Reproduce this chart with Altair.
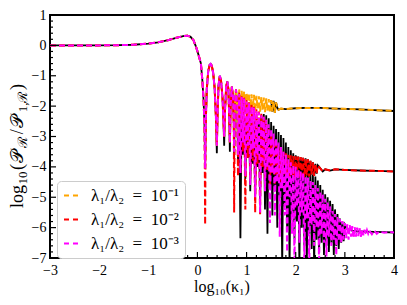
import altair as alt
import pandas as pd

# ---- shared smooth head (all three cases coincide) ----
HEAD_X = [-3.0, -2.5, -2.0, -1.6, -1.3, -1.0, -0.8, -0.6, -0.45, -0.35, -0.27, -0.2, -0.14, -0.08, -0.03, 0.02, 0.07, 0.10, 0.125, 0.145]
HEAD_Y = [0.0, 0.0, 0.0, 0.005, 0.02, 0.06, 0.10, 0.17, 0.24, 0.28, 0.31, 0.32, 0.28, 0.17, -0.04, -0.3, -0.59, -1.14, -1.8, -2.7]

# ---- first resolved oscillations (shared) ----
SEG_X = [0.168, 0.19, 0.22, 0.25, 0.27, 0.29, 0.32, 0.35, 0.375, 0.41, 0.43, 0.456, 0.48, 0.51, 0.53, 0.56, 0.585, 0.61, 0.63, 0.648, 0.675, 0.70, 0.725, 0.74, 0.76, 0.785, 0.81]
SEG_Y = [-2.6, -1.45, -0.85, -0.64, -0.61, -0.66, -0.9, -1.4, -2.3, -2.2, -1.3, -1.0, -1.15, -1.7, -2.5, -2.2, -1.35, -1.19, -1.45, -2.4, -2.0, -1.36, -1.7, -2.6, -2.1, -1.45, -2.0]

DIP_X = [0.157, 0.395, 0.544, 0.66, 0.747, 0.825]
DIP_ORANGE = [-4.0, -3.3, -3.0, -3.2, -3.0, -2.9]
DIP_RED = [-5.9, -3.3, -3.0, -3.2, -5.5, -4.3]
DIP_MAGENTA = [-4.05, -3.3, -3.0, -3.2, -3.5, -3.6]
DIP_BLACK = [-4.0, -3.55, -3.3, -3.5, -3.75, -3.8]

# ---- dense oscillation region: peak / trough positions ----
PEAK_X = [0.85, 0.90, 0.95, 1.00, 1.05, 1.10, 1.15, 1.20, 1.25, 1.30, 1.35, 1.40, 1.45, 1.50, 1.55, 1.60, 1.65, 1.70,
          1.75, 1.80, 1.85, 1.90, 1.95, 2.00, 2.05, 2.10, 2.15, 2.20, 2.25, 2.30, 2.35, 2.40, 2.45, 2.50, 2.55, 2.60,
          2.65, 2.70, 2.75, 2.80, 2.85, 2.90, 2.95, 3.00, 3.05, 3.10, 3.15, 3.20, 3.25, 3.30, 3.35, 3.40, 3.45, 3.50]
TROUGH_X = [0.875, 0.925, 0.975, 1.025, 1.075, 1.125, 1.175, 1.225, 1.275, 1.325, 1.375, 1.425, 1.475, 1.525, 1.575,
            1.625, 1.675, 1.725, 1.775, 1.825, 1.875, 1.925, 1.975, 2.025, 2.075, 2.125, 2.175, 2.225, 2.275, 2.325,
            2.375, 2.425, 2.475, 2.525, 2.575, 2.625, 2.675, 2.725, 2.775, 2.825, 2.875, 2.925, 2.975, 3.025, 3.075,
            3.125, 3.175, 3.225, 3.275, 3.325, 3.375, 3.425, 3.475]

ORANGE_PEAK_Y = [-1.45, -1.49, -1.52, -1.55, -1.58, -1.61, -1.63, -1.66, -1.68, -1.70, -1.72, -1.74, -1.77, -1.80, -1.83, -1.88]
ORANGE_TROUGH_Y = [-2.30, -2.05, -2.15, -2.00, -2.10, -2.05, -2.15, -2.08, -2.18, -2.12, -2.20, -2.15, -2.22, -2.18, -2.22]
ORANGE_TAIL_X = [1.625, 1.65, 1.70, 1.80, 1.90, 2.00, 2.20, 2.50, 2.80, 3.00, 3.30, 3.60, 4.00]
ORANGE_TAIL_Y = [-2.05, -2.12, -2.08, -2.10, -2.08, -2.07, -2.06, -2.06, -2.08, -2.09, -2.11, -2.13, -2.16]

RED_PEAK_Y = [-1.55, -1.65, -1.72, -1.80, -1.87, -1.95, -2.02, -2.10, -2.18, -2.25, -2.35, -2.45, -2.70, -2.90, -3.10,
              -3.25, -3.35, -3.45, -3.50, -3.55, -3.60, -3.62, -3.64, -3.65, -3.66, -3.68, -3.70, -3.72, -3.75, -3.80,
              -3.85, -3.90, -3.95]
RED_TROUGH_Y = [-4.2, -3.5, -5.4, -3.7, -4.4, -3.8, -5.5, -3.9, -5.6, -4.0, -4.6, -4.1, -4.7, -4.2, -4.6, -4.3, -4.5,
                -4.3, -4.45, -4.3, -4.4, -4.3, -4.4, -4.28, -4.38, -4.3, -4.35, -4.28, -4.32, -4.25, -4.3, -4.22]
RED_TAIL_X = [2.50, 2.55, 2.60, 2.70, 2.80, 3.00, 3.30, 3.60, 4.00]
RED_TAIL_Y = [-4.05, -4.15, -4.08, -4.12, -4.08, -4.10, -4.12, -4.13, -4.15]

MAGENTA_PEAK_Y = [-1.6, -1.7, -1.75, -1.85, -1.9, -2.0, -2.05, -2.15, -2.2, -2.3, -2.35, -2.45, -2.6, -2.75, -2.9,
                  -3.05, -3.2, -3.35, -3.5, -3.6, -3.75, -3.85, -3.95, -4.0, -4.1, -4.15, -4.2, -4.3, -4.35, -4.45,
                  -4.5, -4.6, -4.7, -4.8, -4.9, -5.05, -5.15, -5.3, -5.45, -5.55, -5.65, -5.72, -5.78, -5.85, -5.88,
                  -5.92, -5.95, -5.98, -6.0, -6.02, -6.05, -6.07, -6.08, -6.1]
MAGENTA_TROUGH_Y = [-4.2, -3.2, -4.3, -3.3, -4.6, -3.4, -5.0, -3.6, -5.5, -3.8, -4.8, -4.0, -5.85, -4.2, -5.6, -4.5,
                    -6.3, -4.7, -5.6, -6.8, -5.0, -6.2, -7.2, -5.3, -6.5, -5.5, -7.2, -5.7, -7.3, -5.9, -6.6, -6.0,
                    -7.2, -6.2, -6.5, -6.95, -6.3, -6.6, -6.4, -6.9, -6.45, -6.5, -6.4, -6.35, -6.4, -6.3, -6.35,
                    -6.3, -6.28, -6.3, -6.25, -6.22, -6.2]
MAGENTA_TAIL_X = [3.55, 3.60, 3.65, 3.70, 3.80, 3.90, 4.00]
MAGENTA_TAIL_Y = [-6.22, -6.10, -6.20, -6.13, -6.17, -6.14, -6.16]

BLACK_PEAK_Y = [-2.1, -2.2, -2.25, -2.35, -2.4, -2.45, -2.5, -2.5, -2.5, -2.3, -2.26, -2.3, -2.4, -2.52, -2.65,
                -2.75, -2.85, -2.95, -3.05, -3.2, -3.35, -3.45, -3.55, -3.62, -3.7, -3.78, -3.87, -3.97, -4.07, -4.15,
                -4.25, -4.32, -4.45, -4.6, -4.75, -4.9, -5.0, -5.12, -5.22, -5.4, -5.55, -5.7, -5.8, -5.9]
BLACK_TROUGH_Y = [-6.35, -3.6, -4.4, -3.7, -4.8, -3.9, -5.0, -4.0, -5.2, -4.2, -5.4, -6.2, -4.6, -5.6, -4.8, -6.0,
                  -5.0, -7.3, -5.3, -6.0, -7.3, -5.6, -6.4, -5.8, -7.3, -6.0, -6.6, -7.3, -6.2, -6.7, -7.3, -6.4,
                  -6.8, -6.5, -6.9, -6.6, -6.8, -6.5, -6.9, -6.6, -6.7, -6.5, -6.45]
BLACK_TAIL_X = [3.05, 3.20, 3.40, 3.60, 3.80, 4.00]
BLACK_TAIL_Y = [-6.05, -6.12, -6.13, -6.14, -6.15, -6.16]

LABELS = ["λ₁/λ₂\u2002=\u200210⁻¹", "λ₁/λ₂\u2002=\u200210⁻²", "λ₁/λ₂\u2002=\u200210⁻³"]
COLORS = ["#FFA500", "#FF0000", "#FF00FF"]

MAJOR_X = [-3, -2, -1, 0, 1, 2, 3, 4]
MINOR_X = [-2.8, -2.6, -2.4, -2.2, -1.8, -1.6, -1.4, -1.2, -0.8, -0.6, -0.4, -0.2, 0.2, 0.4, 0.6, 0.8,
           1.2, 1.4, 1.6, 1.8, 2.2, 2.4, 2.6, 2.8, 3.2, 3.4, 3.6, 3.8]
MAJOR_Y = [1, 0, -1, -2, -3, -4, -5, -6, -7]
MINOR_Y = [0.8, 0.6, 0.4, 0.2, -0.2, -0.4, -0.6, -0.8, -1.2, -1.4, -1.6, -1.8, -2.2, -2.4, -2.6, -2.8,
           -3.2, -3.4, -3.6, -3.8, -4.2, -4.4, -4.6, -4.8, -5.2, -5.4, -5.6, -5.8, -6.2, -6.4, -6.6, -6.8]

W, H = 344, 243
SERIF = "Liberation Serif"


def rows(xs, ys, s, lab):
    return [{"x": a, "y": b, "s": s, "lab": lab} for a, b in zip(xs, ys)]


def full(dips, pk, tr, tx, ty, s, lab):
    return (rows(HEAD_X, HEAD_Y, s, lab) + rows(SEG_X, SEG_Y, s, lab) + rows(DIP_X, dips, s, lab)
            + rows(PEAK_X, pk, s, lab) + rows(TROUGH_X, tr, s, lab) + rows(tx, ty, s, lab))


recs = []
recs += full(DIP_ORANGE, ORANGE_PEAK_Y, ORANGE_TROUGH_Y, ORANGE_TAIL_X, ORANGE_TAIL_Y, "o", LABELS[0])
recs += full(DIP_RED, RED_PEAK_Y, RED_TROUGH_Y, RED_TAIL_X, RED_TAIL_Y, "r", LABELS[1])
recs += full(DIP_MAGENTA, MAGENTA_PEAK_Y, MAGENTA_TROUGH_Y, MAGENTA_TAIL_X, MAGENTA_TAIL_Y, "m", LABELS[2])
# black reference curves
recs += full(DIP_BLACK, BLACK_PEAK_Y, BLACK_TROUGH_Y, BLACK_TAIL_X, BLACK_TAIL_Y, "k", "")
orange_dense = rows(PEAK_X, ORANGE_PEAK_Y, "ko", "") + rows(TROUGH_X, ORANGE_TROUGH_Y, "ko", "")
recs += [r for r in orange_dense if r["x"] >= 1.5] + rows(ORANGE_TAIL_X, ORANGE_TAIL_Y, "ko", "")
red_dense = rows(PEAK_X, RED_PEAK_Y, "kr", "") + rows(TROUGH_X, RED_TROUGH_Y, "kr", "")
recs += [r for r in red_dense if r["x"] >= 1.9] + rows(RED_TAIL_X, RED_TAIL_Y, "kr", "")

df = pd.DataFrame(recs).sort_values(["s", "x"]).reset_index(drop=True)

XS = alt.Scale(domain=[-3, 4], nice=False, zero=False)
YS = alt.Scale(domain=[-7, 1], nice=False, zero=False)
XAX = alt.Axis(values=MAJOR_X, ticks=False, domain=False, grid=False, title=None, labelFont=SERIF,
               labelFontSize=14, labelColor="black", labelPadding=5, labelFlush=False, labelOverlap=False)
YAX = alt.Axis(values=MAJOR_Y, ticks=False, domain=False, grid=False, title=None, labelFont=SERIF,
               labelFontSize=14, labelColor="black", labelPadding=4, labelFlush=False, labelOverlap=False)

layers = []
black = alt.Chart(df[df.s.isin(["k", "ko", "kr"])]).mark_line(color="black", strokeWidth=1.8, clip=True).encode(
    x=alt.X("x:Q", scale=XS, axis=XAX), y=alt.Y("y:Q", scale=YS, axis=YAX), detail="s:N")
layers.append(black)

CSCALE = alt.Scale(domain=LABELS, range=COLORS)
LEG = alt.Legend(title=None, orient="none", legendX=7, legendY=166, symbolType="stroke", symbolSize=225,
                 symbolStrokeWidth=2, symbolDash=[5, 4], labelFont=SERIF, labelFontSize=17, labelColor="black",
                 labelOffset=11, rowPadding=6, padding=6, fillColor="white", strokeColor="#cccccc",
                 cornerRadius=4)
for key in ["o", "r", "m"]:
    layers.append(alt.Chart(df[df.s == key]).mark_line(strokeWidth=2, strokeDash=[6, 3], clip=True).encode(
        x=alt.X("x:Q", scale=XS, axis=XAX), y=alt.Y("y:Q", scale=YS, axis=YAX),
        color=alt.Color("lab:N", scale=CSCALE, legend=LEG)))

# inward ticks
for vals, ln in [(MAJOR_X, 6), (MINOR_X, 3)]:
    layers.append(alt.Chart(pd.DataFrame({"x": vals})).mark_rule(color="black", strokeWidth=1.2).encode(
        x=alt.X("x:Q", scale=XS, axis=XAX), y=alt.value(H), y2=alt.value(H - ln)))
for vals, ln in [(MAJOR_Y, 6), (MINOR_Y, 3)]:
    layers.append(alt.Chart(pd.DataFrame({"y": vals})).mark_rule(color="black", strokeWidth=1.2).encode(
        y=alt.Y("y:Q", scale=YS, axis=YAX), x=alt.value(0), x2=alt.value(ln)))

# x title
layers.append(alt.Chart(pd.DataFrame({"t": ["log₁₀(κ₁)"]})).mark_text(
    font=SERIF, fontSize=16, align="center", baseline="alphabetic", color="black").encode(
    x=alt.value(W / 2), y=alt.value(277), text="t:N"))

# y title, composed of pieces (rotated)
YT = [("log", 18, 0, 193), ("10", 13, 4, 169.5), ("(", 18, 0, 155), ("𝒫", 18, 0, 148),
      ("ℛ", 13, 4, 132.6), ("/", 18, 0, 119.2), ("𝒫", 18, 0, 112.7), ("1,ℛ", 13, 4, 97.3),
      (")", 18, 0, 75.1)]
for t, fs, dx, yy in YT:
    layers.append(alt.Chart(pd.DataFrame({"t": [t]})).mark_text(
        font=SERIF, fontSize=fs, angle=270, align="left", baseline="alphabetic", color="black").encode(
        x=alt.value(-27 + dx), y=alt.value(yy), text="t:N"))

chart = alt.layer(*layers).properties(
    width=W, height=H, autosize=alt.AutoSizeParams(type="none"),
    padding={"left": 42, "top": 7, "right": 5, "bottom": 38}
).configure_view(stroke="black", strokeWidth=2)

chart.save("out.html", embed_options={"renderer": "svg", "actions": False})
